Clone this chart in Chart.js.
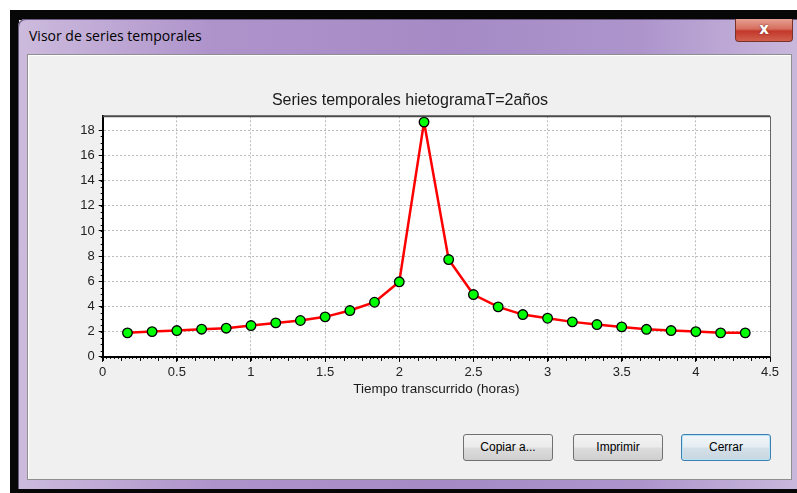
<!DOCTYPE html>
<html lang="es">
<head>
<meta charset="UTF-8">
<title>Visor de series temporales</title>
<style>
    body {
        margin: 0;
        width: 797px;
        height: 493px;
        position: relative;
        overflow: hidden;
        background: #fff;
        font-family: "Liberation Sans", Arial, sans-serif;
    }
    .blk { position: absolute; background: #070707; }
    .frame {
        position: absolute;
        left: 18px; top: 19px; width: 779px; height: 470px;
        border-top-left-radius: 7px;
        background: linear-gradient(to right, #cdbbdd 0%, #ae93cb 25%, #a58ac5 55%, #ad95cc 80%, #c9b7dc 100%);
        box-shadow: inset 1px 1px 0 #6d5a80;
    }
    .wtitle {
        position: absolute;
        left: 29px; top: 26px;
        font: 14px "Open Sans", "Noto Sans", sans-serif;
        color: #000;
    }
    .close {
        position: absolute;
        left: 735px; top: 19px; width: 56px; height: 22px;
        border: 1px solid #7a3128;
        border-top: none;
        border-radius: 0 0 4px 4px;
        background: linear-gradient(to bottom, #e6a194 0%, #d66e5e 45%, #c2382a 55%, #d2604d 100%);
        color: #fff;
        font: bold 15px "DejaVu Sans", sans-serif;
        text-align: center;
        line-height: 20px;
        text-shadow: 0 0 2px #6a2018;
    }
    .client {
        position: absolute;
        left: 27px; top: 54px; width: 763px; height: 424px;
        background: #f0f0f0;
        border: 1px solid #8f8f8f;
        box-shadow: inset 1px 1px 0 #fff;
    }
    .btn {
        position: absolute;
        top: 434px; height: 25px; width: 88px;
        border: 1px solid #707070;
        border-radius: 3px;
        background: linear-gradient(to bottom, #f3f3f3 0%, #ebebeb 48%, #dddddd 52%, #cfcfcf 100%);
        font: 12px "Liberation Sans", Arial, sans-serif;
        color: #000;
        text-align: center;
        line-height: 25px;
    }
    .btn.def {
        border-color: #3c7fb1;
        box-shadow: inset 0 0 0 1px #b8e4f6;
        background: linear-gradient(to bottom, #f1f5f8 0%, #e6edf2 48%, #d4e0e8 52%, #c8d6e0 100%);
    }
    #chart { position: absolute; left: 0; top: 0; }
</style>
</head>
<body>
    <div class="blk" style="left:10px;top:10px;width:787px;height:10px"></div>
    <div class="blk" style="left:10px;top:10px;width:9px;height:483px"></div>
    <div class="blk" style="left:10px;top:488px;width:787px;height:5px"></div>
    <div class="frame"></div>
    <div class="wtitle">Visor de series temporales</div>
    <div class="close">x</div>
    <div class="client"></div>
    <div class="btn" style="left:463px">Copiar a...</div>
    <div class="btn" style="left:573px">Imprimir</div>
    <div class="btn def" style="left:681px">Cerrar</div>

    <canvas id="chart" width="797" height="493"></canvas>

    <script src="https://cdn.jsdelivr.net/npm/chart.js"></script>
    <script>
        // tiempo (horas) y valores
        const tiempo = [0.167, 0.333, 0.5, 0.667, 0.833, 1.0, 1.167, 1.333, 1.5, 1.667, 1.833, 2.0, 2.167,
                        2.333, 2.5, 2.667, 2.833, 3.0, 3.167, 3.333, 3.5, 3.667, 3.833, 4.0, 4.167, 4.333];
        const intensidad = [1.91, 2.01, 2.09, 2.2, 2.28, 2.49, 2.7, 2.89, 3.18, 3.68, 4.34, 5.96, 18.64,
                            7.73, 4.95, 3.97, 3.36, 3.07, 2.78, 2.57, 2.38, 2.19, 2.09, 2.01, 1.91, 1.91];
        const xTicks = [0, 0.5, 1, 1.5, 2, 2.5, 3, 3.5, 4, 4.5];
        const yTicks = [0, 2, 4, 6, 8, 10, 12, 14, 16, 18];

        const tituloGrafico = 'Series temporales hietogramaT=2años';
        const tituloEjeX = 'Tiempo transcurrido (horas)';

        // fondo blanco, borde superior/derecho y marcas menores
        const marcoPlugin = {
            id: 'marco',
            beforeDraw(chart) {
                const a = chart.chartArea, ctx = chart.ctx;
                ctx.save();
                ctx.fillStyle = '#fff';
                ctx.fillRect(a.left, a.top, a.right - a.left, a.bottom - a.top);
                ctx.restore();
            },
            afterDraw(chart) {
                const a = chart.chartArea, ctx = chart.ctx;
                const sx = chart.scales.x, sy = chart.scales.y;
                ctx.save();
                ctx.strokeStyle = '#4a4a4a';
                ctx.lineWidth = 2;
                ctx.beginPath();
                ctx.moveTo(a.left, a.top);
                ctx.lineTo(a.right, a.top);
                ctx.stroke();
                ctx.lineWidth = 1;
                ctx.strokeStyle = '#666';
                ctx.beginPath();
                ctx.moveTo(a.right + 0.5, a.top);
                ctx.lineTo(a.right + 0.5, a.bottom);
                ctx.stroke();

                ctx.strokeStyle = '#000';
                ctx.beginPath();
                for (let i = 0; i <= 180; i++) {
                    const px = Math.round(sx.getPixelForValue(i * 0.025)) + 0.5;
                    const len = i % 5 === 0 ? 4 : 2;
                    ctx.moveTo(px, a.bottom);
                    ctx.lineTo(px, a.bottom + len);
                }
                for (let i = 0; i <= 36; i++) {
                    const py = Math.round(sy.getPixelForValue(i * 0.5)) + 0.5;
                    ctx.moveTo(a.left, py);
                    ctx.lineTo(a.left - 2, py);
                }
                ctx.stroke();
                ctx.restore();
            }
        };

        const fuente = '"Liberation Sans", Arial, sans-serif';

        const ctx = document.getElementById('chart').getContext('2d');
        new Chart(ctx, {
            type: 'line',
            data: {
                datasets: [{
                    data: tiempo.map((t, i) => ({ x: t, y: intensidad[i] })),
                    borderColor: '#ff0000',
                    borderWidth: 2.5,
                    tension: 0,
                    pointRadius: 4.8,
                    pointBackgroundColor: '#00ff00',
                    pointBorderColor: '#000',
                    pointBorderWidth: 1.3,
                    clip: false
                }]
            },
            options: {
                responsive: false,
                animation: false,
                layout: { padding: { left: 50, right: 27, top: 0, bottom: 95.8 } },
                plugins: {
                    legend: { display: false },
                    tooltip: { enabled: false },
                    title: {
                        display: true,
                        text: tituloGrafico,
                        color: '#1a1a1a',
                        font: { family: fuente, size: 16, weight: 'normal' },
                        padding: { top: 90.9, bottom: 6.2 }
                    }
                },
                scales: {
                    x: {
                        type: 'linear',
                        min: 0,
                        max: 4.5,
                        afterBuildTicks: s => { s.ticks = xTicks.map(v => ({ value: v })); },
                        afterFit: s => { s.height = 40.3; },
                        ticks: {
                            color: '#222',
                            font: { family: fuente, size: 13 },
                            padding: 3,
                            maxRotation: 0,
                            callback: v => String(v)
                        },
                        grid: { color: '#bcbcbc', lineWidth: 1, tickLength: 5, tickColor: '#000' },
                        border: { color: '#000', width: 2, dash: [2, 2] },
                        title: {
                            display: true,
                            text: tituloEjeX,
                            color: '#1a1a1a',
                            font: { family: fuente, size: 13.5 },
                            padding: 0
                        }
                    },
                    y: {
                        min: 0,
                        max: 19.1,
                        afterBuildTicks: s => { s.ticks = yTicks.map(v => ({ value: v })); },
                        afterFit: s => { s.width = 52.7; },
                        ticks: {
                            color: '#222',
                            font: { family: fuente, size: 13 },
                            padding: 4
                        },
                        grid: { color: '#bcbcbc', lineWidth: 1, tickLength: 4, tickColor: '#000' },
                        border: { color: '#000', width: 2, dash: [2, 2] }
                    }
                }
            },
            plugins: [marcoPlugin]
        });
    </script>
</body>
</html>
